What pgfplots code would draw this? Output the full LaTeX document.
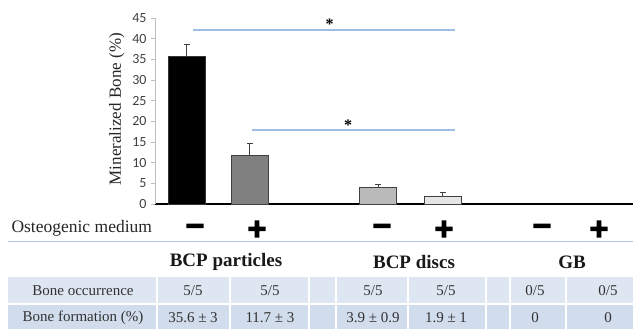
\documentclass[border=0pt]{standalone}
\usepackage{fontspec}
\setmainfont{Liberation Serif}
\newfontfamily\tickfont{Carlito}
\newfontfamily\signfont{DejaVu Sans}
\usepackage{pgfplots}
\pgfplotsset{compat=1.18}
\definecolor{sigblue}{RGB}{160,190,228}
\definecolor{rowA}{RGB}{222,230,242}
\definecolor{rowB}{RGB}{209,220,237}
\definecolor{sepblue}{RGB}{170,196,226}
\newcommand{\heavy}[1]{\special{pdf:code q 2 Tr 1.6 w 0 g 0 G}#1\special{pdf:code Q}}
\begin{document}
\begin{tikzpicture}[x=1pt,y=1pt]
\useasboundingbox (0,0) rectangle (633,329);
\begin{axis}[
  at={(155pt,125pt)}, anchor=south west,
  scale only axis, width=478pt, height=186pt,
  xmin=-0.5, xmax=6.97, ymin=0, ymax=45,
  axis x line=bottom, axis y line=left,
  axis line style={-},
  x axis line style={black, line width=1.8pt},
  y axis line style={black!25, line width=0.8pt},
  xtick=\empty,
  ytick={0,5,...,45},
  tick align=outside, major tick length=4pt,
  ytick style={black!25, line width=0.8pt},
  /pgf/number format/assume math mode=true,
  yticklabel style={font=\tickfont\fontsize{14}{14}\selectfont, text=black!75, xshift=-1pt},
  ylabel={Mineralized Bone (\%)},
  ylabel style={font=\fontsize{17}{17}\selectfont, text=black!85, at={(axis description cs:-0.08,0.51)}, anchor=center},
  clip=false,
]
\addplot[ybar, bar width=37pt, bar shift=0pt, fill=black, draw=black!80, line width=0.8pt,
  error bars/.cd, y dir=plus, y explicit,
  error bar style={line width=1pt, black!75},
  error mark options={rotate=90, mark size=3pt, line width=1pt, black!75}]
  coordinates {(0,35.6) +- (0,3)};
\addplot[ybar, bar width=37pt, bar shift=0pt, fill=black!50, draw=black!75, line width=0.8pt,
  error bars/.cd, y dir=plus, y explicit,
  error bar style={line width=1pt, black!75},
  error mark options={rotate=90, mark size=3pt, line width=1pt, black!75}]
  coordinates {(0.984,11.7) +- (0,3)};
\addplot[ybar, bar width=37pt, bar shift=0pt, fill=black!27, draw=black!75, line width=0.8pt,
  error bars/.cd, y dir=plus, y explicit,
  error bar style={line width=1pt, black!75},
  error mark options={rotate=90, mark size=3pt, line width=1pt, black!75}]
  coordinates {(2.99,3.9) +- (0,0.9)};
\addplot[ybar, bar width=37pt, bar shift=0pt, fill=black!10, draw=black!75, line width=0.8pt,
  error bars/.cd, y dir=plus, y explicit,
  error bar style={line width=1pt, black!75},
  error mark options={rotate=90, mark size=3pt, line width=1pt, black!75}]
  coordinates {(4.0,1.9) +- (0,1)};
% significance lines
\addplot[sigblue, line width=1.6pt, mark=none] coordinates {(0.094,42.1) (4.19,42.1)};
\addplot[sigblue, line width=1.6pt, mark=none] coordinates {(1.016,17.9) (4.19,17.9)};
\node[font=\bfseries\fontsize{16}{16}\selectfont] at (axis cs:2.23,43.6) {*};
\node[font=\bfseries\fontsize{16}{16}\selectfont] at (axis cs:2.52,19.0) {*};
\end{axis}
% Osteogenic medium row
\node[anchor=west, font=\fontsize{17.5}{17.5}\selectfont, text=black!85] at (8,101) {Osteogenic medium};
\begin{scope}[every node/.style={font=\signfont\bfseries\fontsize{25}{25}\selectfont}]
\node at (195,100) {\heavy{−}};
\node at (257,100) {\heavy{+}};
\node at (382,100) {\heavy{−}};
\node at (444,100) {\heavy{+}};
\node at (542,100) {\heavy{−}};
\node at (599,100) {\heavy{+}};
\end{scope}
\draw[sepblue, line width=1pt] (8,87) -- (633,87);
% group labels
\node[font=\bfseries\fontsize{19}{19}\selectfont, text=black!90] at (226,67) {BCP particles};
\node[font=\bfseries\fontsize{19}{19}\selectfont, text=black!90] at (414,67) {BCP discs};
\node[font=\bfseries\fontsize{19}{19}\selectfont, text=black!90] at (572,67) {GB};
% table
\fill[rowA] (8,26) rectangle (633,52);
\fill[rowB] (8,0) rectangle (633,23.5);
\foreach \xx in {157,230,309,336,408,486,510,566}{
  \draw[white, line width=2pt] (\xx,0) -- (\xx,52);
}
\begin{scope}[every node/.style={font=\fontsize{15}{15}\selectfont, text=black!80}]
\node at (83,38) {Bone occurrence};
\node at (193,38) {5/5};
\node at (270,38) {5/5};
\node at (373,38) {5/5};
\node at (446,38) {5/5};
\node at (535,38) {0/5};
\node at (608,38) {0/5};
\node at (83,11) {Bone formation (\%)};
\node at (193,11) {35.6 ± 3};
\node at (270,11) {11.7 ± 3};
\node at (373,11) {3.9 ± 0.9};
\node at (446,11) {1.9 ± 1};
\node at (535,11) {0};
\node at (608,11) {0};
\end{scope}
\end{tikzpicture}
\end{document}
